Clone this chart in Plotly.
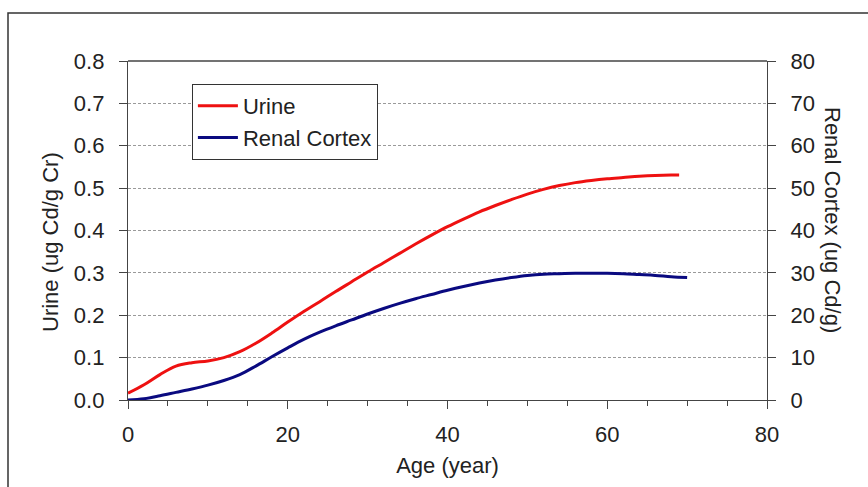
import plotly.graph_objects as go

# Age (years) sampled along each curve
age_urine = [0, 2, 4, 6, 8, 10, 12, 14, 16, 18, 20, 22, 24, 26, 28, 30, 32, 34,
             36, 38, 40, 42, 44, 46, 48, 50, 52, 54, 56, 58, 60, 62, 64, 66, 68, 69]
urine = [0.016, 0.036, 0.060, 0.080, 0.088, 0.092, 0.100, 0.114, 0.134, 0.158,
         0.184, 0.209, 0.232, 0.256, 0.279, 0.302, 0.324, 0.346, 0.368, 0.389,
         0.409, 0.427, 0.444, 0.459, 0.473, 0.486, 0.497, 0.506, 0.513, 0.518,
         0.522, 0.525, 0.528, 0.530, 0.531, 0.531]

age_cortex = [0, 2, 4, 6, 8, 10, 12, 14, 16, 18, 20, 22, 24, 26, 28, 30, 32, 34,
              36, 38, 40, 42, 44, 46, 48, 50, 52, 54, 56, 58, 60, 62, 64, 66, 68, 70]
cortex = [0.0, 0.3, 1.0, 1.8, 2.6, 3.5, 4.6, 6.0, 8.0, 10.2, 12.3, 14.3, 16.0,
          17.5, 18.9, 20.3, 21.6, 22.8, 23.9, 24.9, 25.9, 26.8, 27.6, 28.3, 28.9,
          29.4, 29.7, 29.8, 29.9, 29.9, 29.9, 29.8, 29.6, 29.4, 29.1, 28.9]

x_ticks = [0, 20, 40, 60, 80]
urine_ticks = [0.0, 0.1, 0.2, 0.3, 0.4, 0.5, 0.6, 0.7, 0.8]
cortex_ticks = [0, 10, 20, 30, 40, 50, 60, 70, 80]

FONT = "Liberation Sans, Arial, sans-serif"
TXT = "#222222"
AX = "#444444"

fig = go.Figure()
fig.add_trace(go.Scatter(x=age_urine, y=urine, mode="lines", name="Urine",
                         line=dict(color="#ee1111", width=3, shape="spline")))
fig.add_trace(go.Scatter(x=age_cortex, y=cortex, mode="lines", name="Renal Cortex",
                         yaxis="y2",
                         line=dict(color="#0a0a80", width=3, shape="spline")))

axis_common = dict(showline=True, linecolor=AX, linewidth=1.3,
                   ticks="outside", tickcolor=AX, ticklen=8, tickwidth=1.3,
                   tickfont=dict(family=FONT, size=22, color=TXT),
                   zeroline=False)

fig.update_layout(
    width=868, height=487,
    margin=dict(l=128, r=101, t=61, b=87),
    paper_bgcolor="white", plot_bgcolor="white",
    font=dict(family=FONT, color=TXT),
    xaxis=dict(range=[0, 80], tickvals=x_ticks, showgrid=False,
               title=dict(text="Age (year)", font=dict(family=FONT, size=22, color=TXT),
                          standoff=12),
               minor=dict(dtick=5, ticks="outside", ticklen=5, tickcolor=AX,
                          tickwidth=1.3),
               ticklabelstandoff=6,
               **axis_common),
    yaxis=dict(range=[0, 0.8], tickvals=urine_ticks, tickformat=".1f",
               showgrid=True, gridcolor="#9a9a9a", gridwidth=1, griddash="3px,2px",
               ticklabelstandoff=10,
               **axis_common),
    yaxis2=dict(range=[0, 80], tickvals=cortex_ticks, overlaying="y", side="right",
                showgrid=False,
                ticklabelstandoff=10,
                **axis_common),
    legend=dict(x=0.1, y=0.932, xanchor="left", yanchor="top",
                bgcolor="white", bordercolor="#333333", borderwidth=1,
                font=dict(family=FONT, size=22, color=TXT),
                itemwidth=40, tracegroupgap=0),
    showlegend=True,
)

# Vertical axis titles (right one reads top-to-bottom)
fig.add_annotation(text="Urine (ug Cd/g Cr)", xref="paper", yref="paper",
                   x=(50 - 128) / 639, y=(400 - 242) / 339, textangle=-90,
                   showarrow=False, xanchor="center", yanchor="middle",
                   font=dict(family=FONT, size=22, color=TXT))
fig.add_annotation(text="Renal Cortex (ug Cd/g)", xref="paper", yref="paper",
                   x=(832 - 128) / 639, y=(400 - 220) / 339, textangle=90,
                   showarrow=False, xanchor="center", yanchor="middle",
                   font=dict(family=FONT, size=22, color=TXT))

# Solid top edge closing the plot area
fig.add_shape(type="line", xref="paper", yref="paper", x0=0, x1=1, y0=1, y1=1,
              line=dict(color=AX, width=1.3), layer="above")

# Outer frame around the whole chart
fig.add_shape(type="rect", xref="paper", yref="paper",
              x0=(8 - 128) / 639, x1=(872 - 128) / 639,
              y0=-0.3, y1=1 + (61 - 13) / 339,
              line=dict(color="#333333", width=1.5), layer="below")

fig.write_html("out.html")
